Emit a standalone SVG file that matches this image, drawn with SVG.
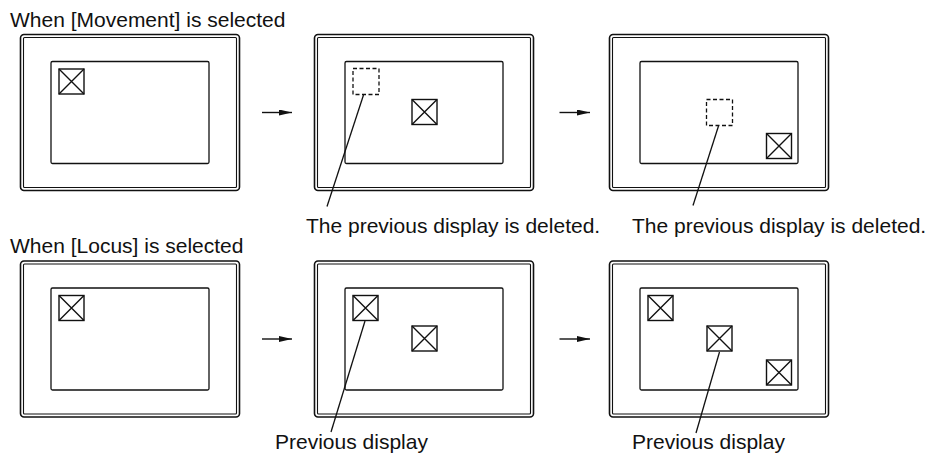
<svg xmlns="http://www.w3.org/2000/svg" width="930" height="457" viewBox="0 0 930 457">
  <defs>
    <style>
      .txt { font-family: "Liberation Sans", Arial, sans-serif; font-size: 21px; fill: #111; }
      .outer { fill: none; stroke: #111; stroke-width: 1.6; }
      .inner { fill: none; stroke: #111; stroke-width: 1.1; }
      .screen { fill: #fff; stroke: #111; stroke-width: 1.3; }
      .icon { fill: #fff; stroke: #111; stroke-width: 1.4; }
      .prev { fill: none; stroke: #111; stroke-width: 1.3; stroke-dasharray: 4 2.5; }
      .lead { fill: none; stroke: #111; stroke-width: 1.3; }
      .arr { fill: none; stroke: #111; stroke-width: 1.4; }
    </style>
    <marker id="ah" viewBox="0 0 13 6" refX="13" refY="3" markerWidth="13" markerHeight="6" markerUnits="userSpaceOnUse" orient="auto">
      <path d="M0,0 L13,3 L0,6 Z" fill="#111"/>
    </marker>
    <g id="frame">
      <rect class="outer" x="0" y="0" width="219" height="156" rx="3.5"/>
      <rect class="inner" x="3" y="3" width="213" height="150" rx="1"/>
      <rect class="screen" x="30.5" y="27" width="158" height="102" rx="1.5"/>
    </g>
    <g id="xbox">
      <rect class="icon" x="0" y="0" width="25" height="25"/>
      <path class="icon" d="M0,0 L25,25 M25,0 L0,25"/>
    </g>
  </defs>

  <text class="txt" x="10" y="27">When [Movement] is selected</text>
  <text class="txt" x="10" y="253">When [Locus] is selected</text>

  <g id="m1">
    <use href="#frame" x="20.5" y="34.5"/>
    <use href="#xbox" x="59" y="69"/>
  </g>
  <g id="m2">
    <use href="#frame" x="314.5" y="34.5"/>
    <rect class="prev" x="353" y="68.5" width="26" height="26"/>
    <use href="#xbox" x="412" y="99.5"/>
  </g>
  <g id="m3">
    <use href="#frame" x="609.5" y="34.5"/>
    <rect class="prev" x="706.5" y="99.5" width="26" height="26"/>
    <use href="#xbox" x="766.5" y="133.5"/>
  </g>
  <g id="l1">
    <use href="#frame" x="20.5" y="261"/>
    <use href="#xbox" x="59" y="295.5"/>
  </g>
  <g id="l2">
    <use href="#frame" x="314.5" y="261"/>
    <use href="#xbox" x="353" y="295.5"/>
    <use href="#xbox" x="412" y="326"/>
  </g>
  <g id="l3">
    <use href="#frame" x="609.5" y="261"/>
    <use href="#xbox" x="648" y="295.5"/>
    <use href="#xbox" x="707" y="326"/>
    <use href="#xbox" x="766.5" y="360"/>
  </g>

  <g id="connectors">
    <line class="arr" x1="262" y1="112.5" x2="292" y2="112.5" marker-end="url(#ah)"/>
    <line class="arr" x1="559.5" y1="112.5" x2="590" y2="112.5" marker-end="url(#ah)"/>
    <line class="arr" x1="262" y1="339" x2="292" y2="339" marker-end="url(#ah)"/>
    <line class="arr" x1="559.5" y1="339" x2="590" y2="339" marker-end="url(#ah)"/>
    <line class="lead" x1="363.5" y1="95" x2="327" y2="206.5"/>
    <line class="lead" x1="718.5" y1="126" x2="693" y2="205.5"/>
    <line class="lead" x1="365" y1="321" x2="331" y2="432"/>
    <line class="lead" x1="719.5" y1="352" x2="696" y2="433"/>
  </g>

  <g id="labels">
    <text class="txt" x="306" y="233">The previous display is deleted.</text>
    <text class="txt" x="632" y="233">The previous display is deleted.</text>
    <text class="txt" x="275" y="449">Previous display</text>
    <text class="txt" x="632" y="449">Previous display</text>
  </g>
</svg>
